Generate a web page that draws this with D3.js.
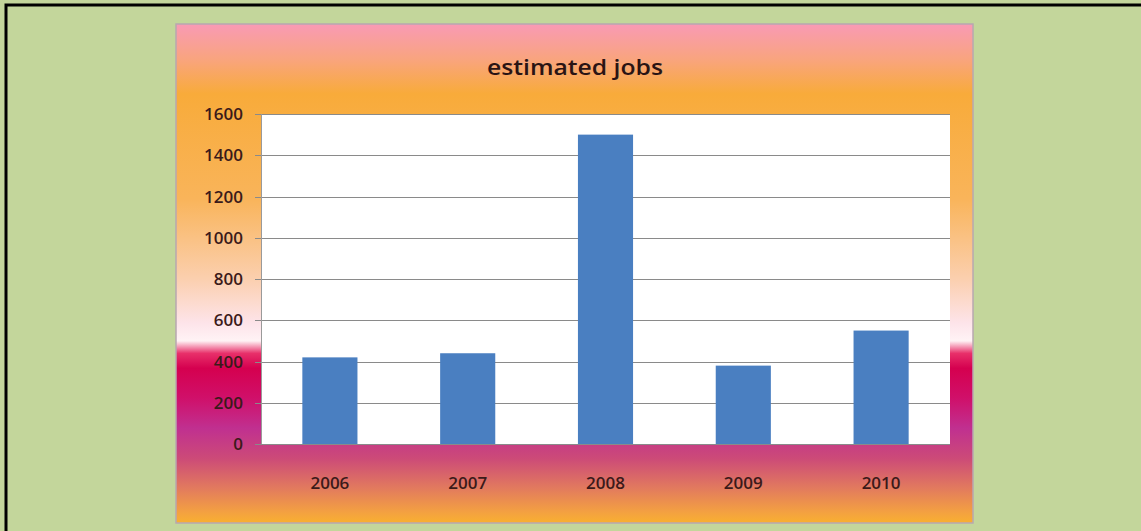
<!DOCTYPE html>
<html>
<head>
<meta charset="utf-8">
<script src="https://cdn.jsdelivr.net/npm/d3@7"></script>
<style>
  html, body { margin: 0; padding: 0; background: #c3d69b; }
  svg { display: block; }
</style>
</head>
<body>
<script>
// Estimated jobs per year
const years = ["2006", "2007", "2008", "2009", "2010"];
const jobs = [420, 440, 1500, 380, 550];
const yTicks = [0, 200, 400, 600, 800, 1000, 1200, 1400, 1600];
const chartTitle = "estimated jobs";

const W = 1141, H = 531;
const svg = d3.select("body").append("svg").attr("width", W).attr("height", H);

// page frame (top/left rule)
svg.append("rect").attr("x", 6).attr("y", 5).attr("width", W + 10).attr("height", H + 10)
  .attr("fill", "#c3d69b").attr("stroke", "#000").attr("stroke-width", 3);

// chart box
const box = { x: 176, y: 24, w: 797, h: 499 };
const defs = svg.append("defs");
const grad = defs.append("linearGradient").attr("id", "bgGrad")
  .attr("x1", 0).attr("y1", 0).attr("x2", 0).attr("y2", 1);
[
  [0.00, "#f99ab5"], [0.07, "#f9a47f"], [0.14, "#f8ab3a"], [0.35, "#f9b45a"],
  [0.51, "#fbcfae"], [0.60, "#fde4ea"], [0.635, "#fff3f5"], [0.66, "#e8306a"],
  [0.69, "#d5004f"], [0.75, "#d0106a"], [0.81, "#c03090"], [0.87, "#cc4a78"],
  [0.93, "#e27a5e"], [0.98, "#f4a240"], [1.00, "#f8b030"]
].forEach(([o, c]) => grad.append("stop").attr("offset", o).attr("stop-color", c));

svg.append("rect").attr("x", box.x).attr("y", box.y).attr("width", box.w).attr("height", box.h)
  .attr("fill", "url(#bgGrad)").attr("stroke", "#b8a8b0").attr("stroke-width", 1.5);

// plot area
const plot = { x: 261, y: 114, w: 689, h: 330 };
const x = d3.scaleBand().domain(years).range([plot.x, plot.x + plot.w]).paddingInner(0.6).paddingOuter(0.3);
const y = d3.scaleLinear().domain([0, 1600]).range([plot.y + plot.h, plot.y]);

svg.append("rect").attr("x", plot.x).attr("y", plot.y).attr("width", plot.w).attr("height", plot.h)
  .attr("fill", "#ffffff");

// gridlines
svg.append("g").selectAll("line").data(yTicks).join("line")
  .attr("x1", plot.x - 6).attr("x2", plot.x + plot.w)
  .attr("y1", d => Math.round(y(d)) + 0.5).attr("y2", d => Math.round(y(d)) + 0.5)
  .attr("stroke", "#8a8a8a").attr("stroke-width", 1.2);

// left axis line
svg.append("line").attr("x1", plot.x + 0.5).attr("x2", plot.x + 0.5)
  .attr("y1", plot.y).attr("y2", plot.y + plot.h).attr("stroke", "#9a9a9a");

// bars
svg.append("g").selectAll("rect").data(jobs).join("rect")
  .attr("x", (d, i) => x(years[i]))
  .attr("width", x.bandwidth())
  .attr("y", d => y(d))
  .attr("height", d => y(0) - y(d))
  .attr("fill", "#4a7fc1");

// y tick labels
svg.append("g").selectAll("text").data(yTicks).join("text")
  .attr("x", 243).attr("y", d => y(d)).attr("dy", "0.36em")
  .attr("text-anchor", "end")
  .attr("font-family", "'Open Sans', sans-serif").attr("font-weight", 600)
  .attr("font-size", 17).attr("fill", "#3b1a1a")
  .text(d => d);

// x labels
svg.append("g").selectAll("text").data(years).join("text")
  .attr("x", d => x(d) + x.bandwidth() / 2).attr("y", 489)
  .attr("text-anchor", "middle")
  .attr("font-family", "'Open Sans', sans-serif").attr("font-weight", 600)
  .attr("font-size", 17).attr("fill", "#3b1a1a")
  .text(d => d);

// title
svg.append("text").attr("x", 575).attr("y", 75).attr("text-anchor", "middle")
  .attr("font-family", "'Open Sans', sans-serif").attr("font-weight", 600)
  .attr("font-size", 21).attr("fill", "#2a1414")
  .attr("textLength", 176).attr("lengthAdjust", "spacingAndGlyphs")
  .text(chartTitle);
</script>
</body>
</html>
